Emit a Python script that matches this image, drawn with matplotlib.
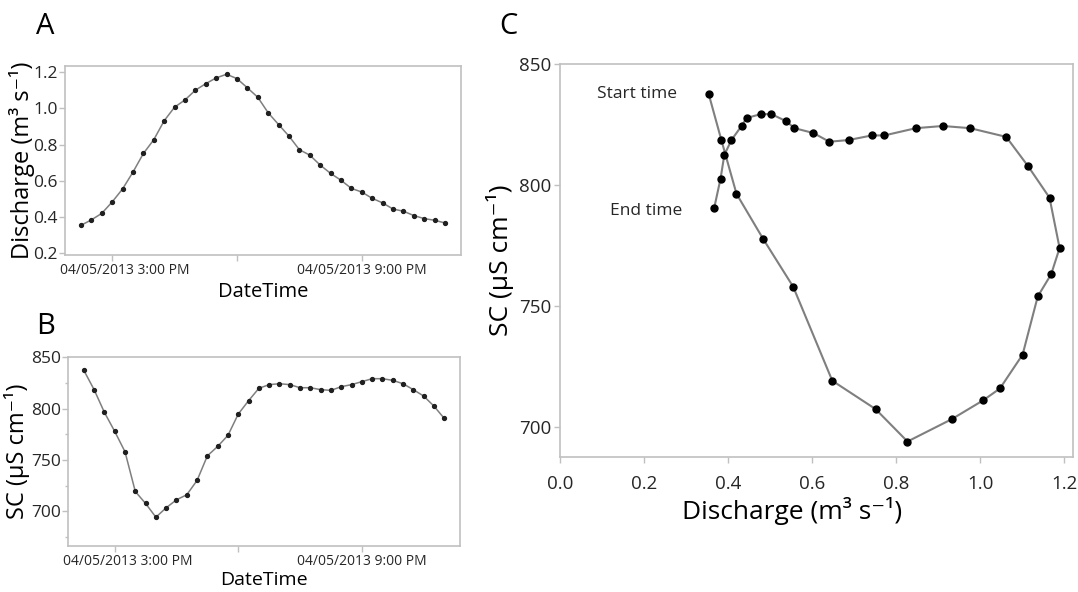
import pandas as pd
import matplotlib
matplotlib.use("Agg")
import matplotlib.pyplot as plt
import matplotlib.transforms as mtrans
from matplotlib.ticker import MultipleLocator

plt.rcParams['font.family'] = ['Open Sans', 'DejaVu Sans']

# 15 min samples, 04/05/2013 2:15 PM .. 11:00 PM
times = pd.date_range("2013-04-05 14:15", periods=36, freq="15min")

discharge = [0.354, 0.384, 0.420, 0.483, 0.555, 0.648, 0.751, 0.827, 0.932, 1.007,
             1.047, 1.101, 1.137, 1.169, 1.189, 1.165, 1.114, 1.062, 0.976, 0.911,
             0.847, 0.772, 0.742, 0.687, 0.641, 0.603, 0.558, 0.538, 0.503, 0.478,
             0.444, 0.432, 0.408, 0.391, 0.382, 0.367]

sc = [837.5, 818.6, 796.4, 777.9, 758.0, 719.2, 707.5, 694.1, 703.3, 711.1,
      716.0, 730.0, 754.0, 763.2, 774.0, 794.8, 807.8, 819.9, 823.5, 824.4,
      823.5, 820.5, 820.5, 818.6, 817.9, 821.5, 823.5, 826.4, 829.3, 829.3,
      827.7, 824.4, 818.6, 812.4, 802.6, 790.6]

time_ticks = pd.to_datetime(["2013-04-05 15:00", "2013-04-05 18:00", "2013-04-05 21:00"])
time_labels = ["04/05/2013 3:00 PM", "", "04/05/2013 9:00 PM"]

line_col = "#7f7f7f"
spine_col = "#c0c0c0"
txt_col = "#262626"

fig = plt.figure(figsize=(10.78, 5.92), dpi=100)


def style(ax, size):
    for s in ax.spines.values():
        s.set_color(spine_col)
        s.set_linewidth(1.2)
    ax.tick_params(direction="out", length=4, width=1, color=spine_col,
                   labelsize=size, labelcolor=txt_col, pad=2)
    ax.tick_params(which="minor", direction="out", length=2.5, width=1, color=spine_col)


def time_axis(ax):
    ax.set_xticks(time_ticks)
    ax.set_xticklabels(time_labels)
    ax.tick_params(axis="x", labelsize=10)
    # first label is pushed right so it stays inside the frame
    lab = ax.get_xticklabels()[0]
    lab.set_transform(lab.get_transform() +
                      mtrans.ScaledTranslation(0.13, 0, fig.dpi_scale_trans))


xmin = pd.Timestamp("2013-04-05 13:52")
xmax = pd.Timestamp("2013-04-05 23:23")

# A
axA = fig.add_axes([0.0603, 0.5693, 0.3673, 0.3193])
axA.plot(times, discharge, color=line_col, lw=1.1, marker="o", ms=2.8,
         mfc="#202020", mec="#202020")
axA.set_xlim(xmin, xmax)
axA.set_ylim(0.19, 1.235)
axA.set_yticks([0.2, 0.4, 0.6, 0.8, 1.0, 1.2])
style(axA, 12.5)
axA.tick_params(axis="y", pad=1)
time_axis(axA)
axA.set_ylabel("Discharge (m³ s⁻¹)", fontsize=17, color="black", labelpad=-1)
axA.set_xlabel("DateTime", fontsize=14.5, color="black", labelpad=3)

# B
axB = fig.add_axes([0.0631, 0.0777, 0.3636, 0.3193])
axB.plot(times, sc, color=line_col, lw=1.1, marker="o", ms=2.8,
         mfc="#202020", mec="#202020")
axB.set_xlim(xmin, xmax)
axB.set_ylim(666, 850.5)
axB.set_yticks([700, 750, 800, 850])
axB.yaxis.set_minor_locator(MultipleLocator(25))
style(axB, 12.5)
axB.tick_params(axis="y", pad=1)
time_axis(axB)
axB.set_ylabel("SC (µS cm⁻¹)", fontsize=17, color="black", labelpad=1)
axB.set_xlabel("DateTime", fontsize=14, color="black", labelpad=1)

# C
axC = fig.add_axes([0.5195, 0.228, 0.4759, 0.6639])
axC.plot(discharge, sc, color=line_col, lw=1.5, marker="o", ms=5,
         mfc="black", mec="black")
axC.set_xlim(0.0, 1.221)
axC.set_ylim(687.7, 850)
axC.set_xticks([0.0, 0.2, 0.4, 0.6, 0.8, 1.0, 1.2])
axC.set_xticklabels(["0.0", "0.2", "0.4", "0.6", "0.8", "1.0", "1.2"])
axC.set_yticks([700, 750, 800, 850])
style(axC, 13.5)
axC.tick_params(axis="x", pad=9)
axC.set_ylabel("SC (µS cm⁻¹)", fontsize=19, color="black", labelpad=4)
axC.set_xlabel("Discharge (m³ s⁻¹)", fontsize=19, color="black", labelpad=3)
axC.xaxis.label.set_x(0.452)
axC.text(0.279, 837.5, "Start time", fontsize=12.5, ha="right", va="center", color=txt_col)
axC.text(0.29, 789.5, "End time", fontsize=12.5, ha="right", va="center", color=txt_col)

fig.text(0.042, 0.955, "A", fontsize=21, ha="center", va="center")
fig.text(0.042, 0.448, "B", fontsize=21, ha="center", va="center")
fig.text(0.472, 0.955, "C", fontsize=21, ha="center", va="center")

fig.savefig("out.png", dpi=100)
